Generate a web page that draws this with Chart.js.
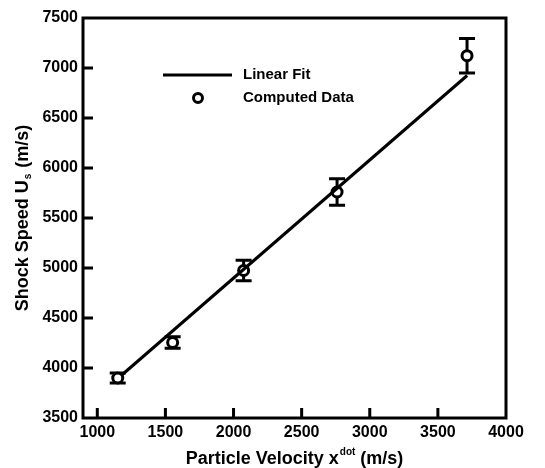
<!DOCTYPE html>
<html>
<head>
<meta charset="utf-8">
<script src="https://cdn.jsdelivr.net/npm/chart.js@4/dist/chart.umd.min.js"></script>
<style>
  html, body { margin: 0; padding: 0; background: #fff; }
  #wrap { width: 545px; height: 468px; }
</style>
</head>
<body>
<div id="wrap"><canvas id="chart"></canvas></div>
<script>
// particle velocity (m/s) and shock speed (m/s)
const velocity = [1150, 1553, 2074, 2760, 3714];
const shockSpeed = [3900, 4255, 4975, 5760, 7123];
const errorBar = [50, 58, 103, 133, 173];

// linear fit end points
const fitX = [1180, 3715];
const fitY = [3930, 6925];

const xTicks = [1000, 1500, 2000, 2500, 3000, 3500, 4000];
const yTicks = [3500, 4000, 4500, 5000, 5500, 6000, 6500, 7000, 7500];

const FONT = "'Liberation Sans', Arial, sans-serif";

// vertical error bars with caps, drawn under the markers
const errorBars = {
  id: "errorBars",
  beforeDatasetsDraw(chart) {
    const { ctx, scales: { x, y } } = chart;
    ctx.save();
    ctx.strokeStyle = "#000";
    ctx.lineWidth = 3;
    velocity.forEach((v, i) => {
      const px = x.getPixelForValue(v);
      const top = y.getPixelForValue(shockSpeed[i] + errorBar[i]);
      const bot = y.getPixelForValue(shockSpeed[i] - errorBar[i]);
      ctx.beginPath();
      ctx.moveTo(px, top); ctx.lineTo(px, bot);
      ctx.moveTo(px - 8, top); ctx.lineTo(px + 8, top);
      ctx.moveTo(px - 8, bot); ctx.lineTo(px + 8, bot);
      ctx.stroke();
    });
    ctx.restore();
  }
};

// box frame, inward ticks, axis titles and the legend
const decorations = {
  id: "decorations",
  afterDraw(chart) {
    const { ctx, chartArea: a, scales: { x, y } } = chart;
    ctx.save();
    ctx.strokeStyle = "#000";
    ctx.fillStyle = "#000";

    ctx.lineWidth = 3;
    ctx.strokeRect(a.left, a.top, a.right - a.left, a.bottom - a.top);

    ctx.beginPath();
    xTicks.forEach(v => {
      const px = x.getPixelForValue(v);
      if (px > a.right - 2) return;
      ctx.moveTo(px, a.bottom); ctx.lineTo(px, a.bottom - 10);
    });
    yTicks.forEach(v => {
      const py = y.getPixelForValue(v);
      if (py < a.top + 2 || py > a.bottom - 2) return;
      ctx.moveTo(a.left, py); ctx.lineTo(a.left + 10, py);
    });
    ctx.stroke();

    // x title with superscript
    const xt = ["Particle Velocity x", "dot", " (m/s)"];
    ctx.textBaseline = "alphabetic";
    ctx.font = "bold 18px " + FONT;
    const w1 = ctx.measureText(xt[0]).width;
    const w3 = ctx.measureText(xt[2]).width;
    ctx.font = "bold 10px " + FONT;
    const w2 = ctx.measureText(xt[1]).width + 1;
    let sx = (a.left + a.right) / 2 - (w1 + w2 + w3) / 2;
    const base = 464;
    ctx.font = "bold 18px " + FONT;
    ctx.fillText(xt[0], sx, base);
    ctx.font = "bold 10px " + FONT;
    ctx.fillText(xt[1], sx + w1 + 1, base - 9);
    ctx.font = "bold 18px " + FONT;
    ctx.fillText(xt[2], sx + w1 + w2, base);

    // y title with subscript
    const yt = ["Shock Speed U", "s", " (m/s)"];
    ctx.translate(28, (a.top + a.bottom) / 2);
    ctx.rotate(-Math.PI / 2);
    ctx.font = "bold 18px " + FONT;
    const v1 = ctx.measureText(yt[0]).width;
    const v3 = ctx.measureText(yt[2]).width;
    ctx.font = "bold 10px " + FONT;
    const v2 = ctx.measureText(yt[1]).width + 2;
    sx = -(v1 + v2 + v3) / 2;
    ctx.font = "bold 18px " + FONT;
    ctx.fillText(yt[0], sx, 0);
    ctx.font = "bold 10px " + FONT;
    ctx.fillText(yt[1], sx + v1 + 1, 3);
    ctx.font = "bold 18px " + FONT;
    ctx.fillText(yt[2], sx + v1 + v2, 0);
    ctx.setTransform(1, 0, 0, 1, 0, 0);

    // legend
    const lx = a.left + 80, ly = a.top + 57;
    ctx.beginPath();
    ctx.moveTo(lx, ly); ctx.lineTo(lx + 69, ly);
    ctx.stroke();
    ctx.fillStyle = "#fff";
    ctx.beginPath();
    ctx.arc(lx + 35, ly + 23, 4.5, 0, Math.PI * 2);
    ctx.fill(); ctx.stroke();
    ctx.fillStyle = "#000";
    ctx.font = "bold 15px " + FONT;
    ctx.textBaseline = "middle";
    ctx.fillText("Linear Fit", lx + 80, ly);
    ctx.fillText("Computed Data", lx + 80, ly + 23);
    ctx.restore();
  }
};

const tickFont = { family: FONT, size: 16, weight: "bold" };

new Chart(document.getElementById("chart"), {
  type: "scatter",
  data: {
    datasets: [
      {
        label: "Linear Fit",
        type: "line",
        data: fitX.map((v, i) => ({ x: v, y: fitY[i] })),
        borderColor: "#000",
        borderWidth: 3,
        pointRadius: 0,
        fill: false
      },
      {
        label: "Computed Data",
        data: velocity.map((v, i) => ({ x: v, y: shockSpeed[i] })),
        pointStyle: "circle",
        pointRadius: 5,
        pointBorderWidth: 3,
        pointBackgroundColor: "#fff",
        pointBorderColor: "#000"
      }
    ]
  },
  options: {
    responsive: true,
    maintainAspectRatio: false,
    animation: false,
    layout: { padding: { left: 0, right: 39, top: 18, bottom: 0 } },
    plugins: { legend: { display: false }, tooltip: { enabled: false } },
    scales: {
      x: {
        type: "linear",
        min: 895,
        max: 4000,
        afterBuildTicks: s => { s.ticks = xTicks.map(v => ({ value: v })); },
        afterFit: s => { s.height = 50; },
        grid: { display: false, drawTicks: false },
        border: { display: false },
        ticks: { color: "#000", padding: 5, maxRotation: 0, font: tickFont, callback: v => String(v) }
      },
      y: {
        min: 3500,
        max: 7500,
        afterBuildTicks: s => { s.ticks = yTicks.map(v => ({ value: v })); },
        afterFit: s => { s.width = 83; },
        grid: { display: false, drawTicks: false },
        border: { display: false },
        ticks: { color: "#000", padding: 5, font: tickFont, callback: v => String(v) }
      }
    }
  },
  plugins: [errorBars, decorations]
});
</script>
</body>
</html>
